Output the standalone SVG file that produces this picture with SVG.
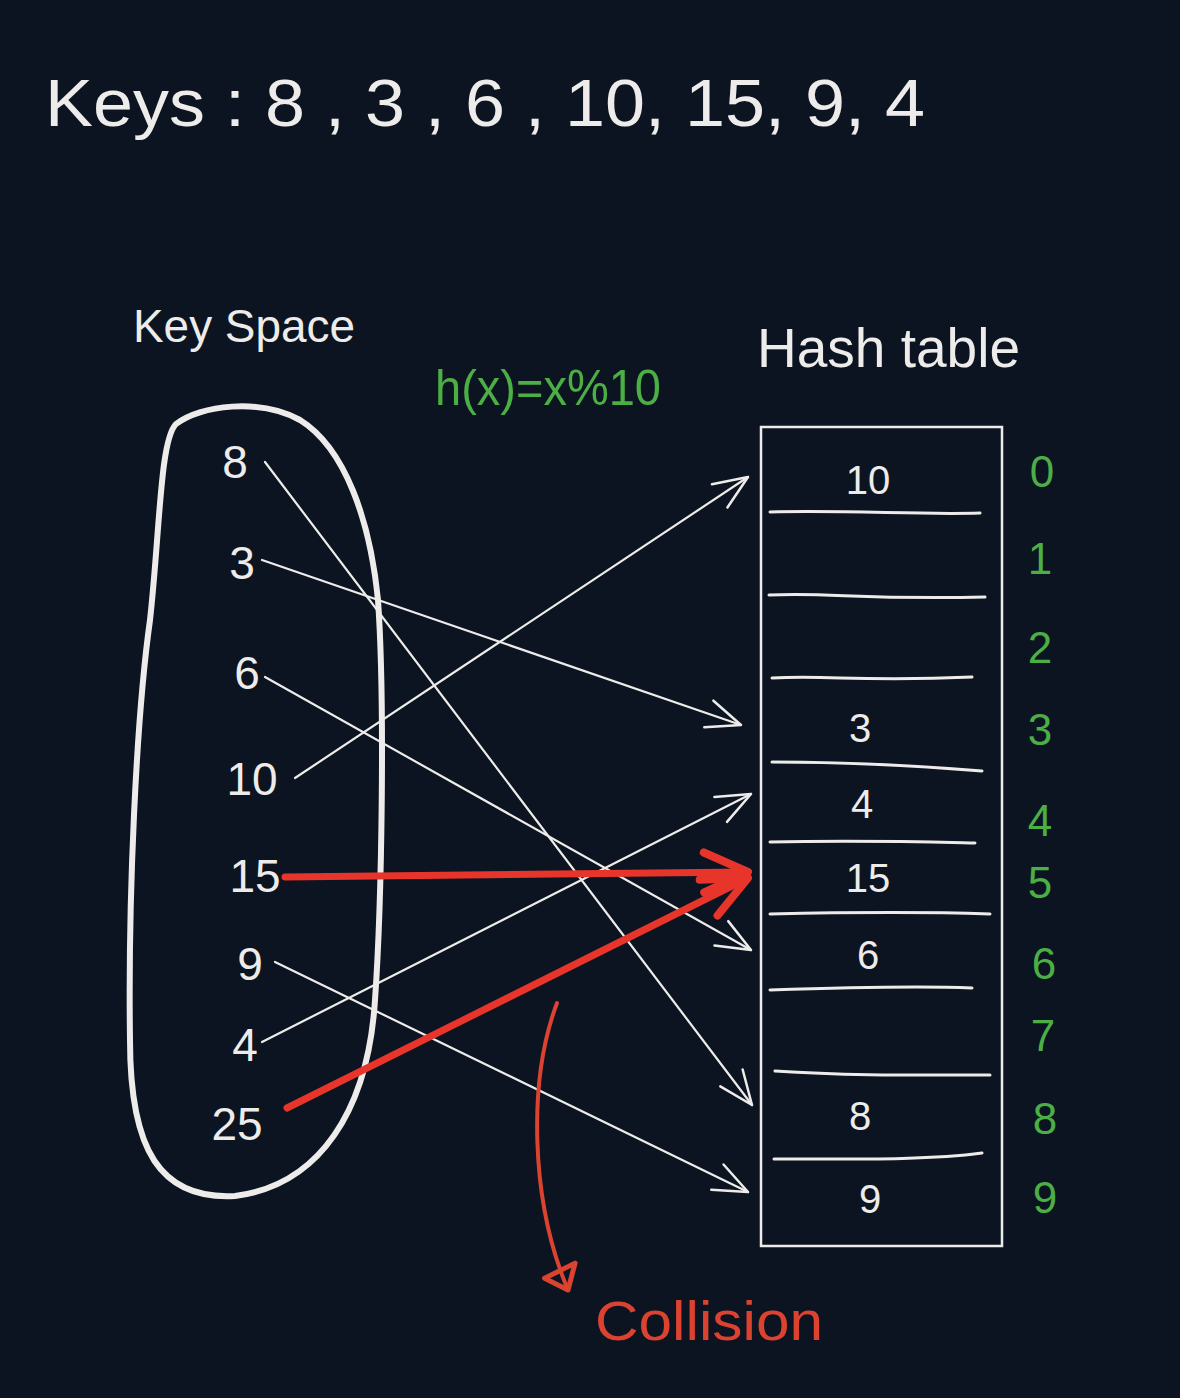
<svg xmlns="http://www.w3.org/2000/svg" width="1180" height="1398" viewBox="0 0 1180 1398">
<style>
.w{fill:#eeecea;font-family:"Liberation Sans","DejaVu Sans",sans-serif}
.g{fill:#4caf45;font-family:"Liberation Sans","DejaVu Sans",sans-serif}
.r{fill:#dc4230;font-family:"Liberation Sans","DejaVu Sans",sans-serif}
.hand{fill:none;stroke:#eeecea;stroke-linecap:round;stroke-linejoin:round}
.c{fill:none;stroke:#eeecea;stroke-width:2.2;stroke-linecap:round}
.cr{fill:none;stroke:#e8352b;stroke-width:7;stroke-linecap:round}
</style>
<defs>
<marker id="aw" markerUnits="userSpaceOnUse" markerWidth="44" markerHeight="44" refX="38" refY="20" orient="auto">
<path d="M4,6 L38,20 L4,34" fill="none" stroke="#eeecea" stroke-width="2.5" stroke-linecap="round" stroke-linejoin="round"/>
</marker>
<marker id="ar" markerUnits="userSpaceOnUse" markerWidth="60" markerHeight="60" refX="50" refY="28" orient="auto">
<path d="M6,8 L50,28 L6,48" fill="none" stroke="#e8352b" stroke-width="8" stroke-linecap="round" stroke-linejoin="round"/>
</marker>
<marker id="at" markerUnits="userSpaceOnUse" markerWidth="50" markerHeight="50" refX="30" refY="25" orient="auto">
<path d="M30,25 L8,8 L10,42 Z" fill="none" stroke="#d94330" stroke-width="5" stroke-linejoin="round"/>
</marker>
</defs>
<rect width="1180" height="1398" fill="#0b1420"/>

<g id="title">
<text class="w" x="45" y="126" font-size="66" textLength="880" lengthAdjust="spacingAndGlyphs">Keys : 8 , 3 , 6 , 10, 15, 9, 4</text>
</g>

<g id="keyspace">
<text class="w" x="133" y="342" font-size="46" textLength="222" lengthAdjust="spacingAndGlyphs">Key Space</text>
<path class="hand" stroke-width="6" d="M176,424 C200,405 260,398 300,420 C345,448 370,520 378,600 C385,700 382,900 375,1000 C368,1110 320,1185 235,1196 C160,1200 130,1150 130,1040 C128,900 136,720 150,620 C160,530 160,440 176,424 Z"/>
<text class="w" x="235" y="478" font-size="46" text-anchor="middle">8</text>
<text class="w" x="242" y="579" font-size="46" text-anchor="middle">3</text>
<text class="w" x="247" y="689" font-size="46" text-anchor="middle">6</text>
<text class="w" x="252" y="795" font-size="46" text-anchor="middle">10</text>
<text class="w" x="255" y="892" font-size="46" text-anchor="middle">15</text>
<text class="w" x="250" y="980" font-size="46" text-anchor="middle">9</text>
<text class="w" x="245" y="1061" font-size="46" text-anchor="middle">4</text>
<text class="w" x="237" y="1140" font-size="46" text-anchor="middle">25</text>
</g>

<g id="hashfn">
<text class="g" x="435" y="405" font-size="50" textLength="226" lengthAdjust="spacingAndGlyphs">h(x)=x%10</text>
</g>

<g id="hashtable">
<text class="w" x="757" y="367" font-size="56" textLength="263" lengthAdjust="spacingAndGlyphs">Hash table</text>
<rect x="761" y="427" width="241" height="819" fill="none" stroke="#eeecea" stroke-width="2.5"/>
<g class="hand" stroke-width="3">
<path d="M770,512 C850,510 920,515 980,513"/>
<path d="M769,595 C830,592 860,600 985,597"/>
<path d="M772,678 C830,675 860,682 972,677"/>
<path d="M772,762 C850,762 920,766 982,771"/>
<path d="M770,842 C860,840 930,842 975,843"/>
<path d="M770,914 C860,912 930,912 990,914"/>
<path d="M770,990 C860,987 920,986 972,988"/>
<path d="M775,1071 C850,1076 920,1075 990,1075"/>
<path d="M774,1159 C860,1159 930,1160 982,1153"/>
</g>
<text class="w" x="868" y="494" font-size="40" text-anchor="middle">10</text>
<text class="w" x="860" y="742" font-size="40" text-anchor="middle">3</text>
<text class="w" x="862" y="818" font-size="40" text-anchor="middle">4</text>
<text class="w" x="868" y="892" font-size="40" text-anchor="middle">15</text>
<text class="w" x="868" y="969" font-size="40" text-anchor="middle">6</text>
<text class="w" x="860" y="1130" font-size="40" text-anchor="middle">8</text>
<text class="w" x="870" y="1213" font-size="40" text-anchor="middle">9</text>
</g>

<g id="indices">
<text class="g" x="1042" y="487" font-size="44" text-anchor="middle">0</text>
<text class="g" x="1040" y="574" font-size="44" text-anchor="middle">1</text>
<text class="g" x="1040" y="663" font-size="44" text-anchor="middle">2</text>
<text class="g" x="1040" y="745" font-size="44" text-anchor="middle">3</text>
<text class="g" x="1040" y="836" font-size="44" text-anchor="middle">4</text>
<text class="g" x="1040" y="898" font-size="44" text-anchor="middle">5</text>
<text class="g" x="1044" y="979" font-size="44" text-anchor="middle">6</text>
<text class="g" x="1043" y="1051" font-size="44" text-anchor="middle">7</text>
<text class="g" x="1045" y="1134" font-size="44" text-anchor="middle">8</text>
<text class="g" x="1045" y="1213" font-size="44" text-anchor="middle">9</text>
</g>

<g id="collision-label">
<text class="r" x="595" y="1340" font-size="56" textLength="228" lengthAdjust="spacingAndGlyphs">Collision</text>
</g>

<g id="connectors">
<line class="c" x1="265" y1="462" x2="752" y2="1105" marker-end="url(#aw)"/>
<line class="c" x1="262" y1="560" x2="741" y2="725" marker-end="url(#aw)"/>
<line class="c" x1="265" y1="677" x2="751" y2="950" marker-end="url(#aw)"/>
<line class="c" x1="295" y1="778" x2="748" y2="477" marker-end="url(#aw)"/>
<line class="c" x1="275" y1="962" x2="748" y2="1192" marker-end="url(#aw)"/>
<line class="c" x1="262" y1="1042" x2="751" y2="794" marker-end="url(#aw)"/>
<line class="cr" x1="285" y1="877" x2="748" y2="872" marker-end="url(#ar)"/>
<line class="cr" x1="287" y1="1108" x2="748" y2="878" marker-end="url(#ar)"/>
<path d="M557,1003 C528,1080 530,1200 568,1290" fill="none" stroke="#d94330" stroke-width="4" stroke-linecap="round" marker-end="url(#at)"/>
</g>
</svg>
